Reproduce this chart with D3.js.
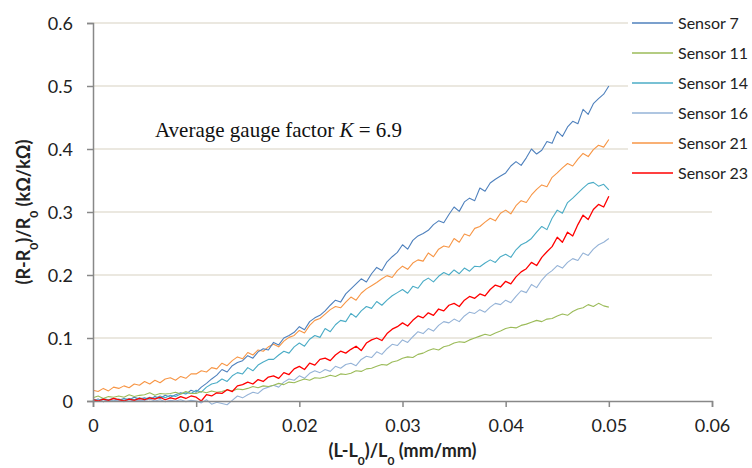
<!DOCTYPE html>
<html>
<head>
<meta charset="utf-8">
<title>Gauge factor</title>
<script src="https://d3js.org/d3.v7.min.js"></script>
<style>
body { margin: 0; background: #fff; }
.tick text { font-family: Lato, "Open Sans", sans-serif; font-size: 18px; fill: #222; }
.axistitle { font-family: Lato, "Open Sans", sans-serif; font-size: 18px; font-weight: bold; fill: #222; }
.legend text { font-family: Lato, "Open Sans", sans-serif; font-size: 16px; fill: #222; }
.series { fill: none; stroke-width: 1.1px; stroke-linejoin: round; }
</style>
</head>
<body>
<div id="chart"></div>
<script>
// strain steps of 0.0005 from 0 to 0.05
var strain = d3.range(101).map(function(i) { return i * 0.0005; });

var xTicks = [0, 0.01, 0.02, 0.03, 0.04, 0.05, 0.06];
var yTicks = [0, 0.1, 0.2, 0.3, 0.4, 0.5, 0.6];

var sensorNames = ["Sensor 7", "Sensor 11", "Sensor 14", "Sensor 16", "Sensor 21", "Sensor 23"];
var sensorColors = ["#4f81bd", "#9bbb59", "#4bacc6", "#95b3d7", "#f79646", "#ff0000"];

var sensor7 = [
  0.000, 0.003, -0.001, 0.002, 0.004, 0.001, 0.004, 0.002, 0.006, 0.003,
  0.005, 0.002, 0.007, 0.004, 0.009, 0.006, 0.010, 0.013, 0.011, 0.017,
  0.014, 0.022, 0.028, 0.035, 0.041, 0.050, 0.046, 0.056, 0.061, 0.064,
  0.072, 0.068, 0.078, 0.083, 0.081, 0.093, 0.089, 0.100, 0.104, 0.109,
  0.118, 0.113, 0.126, 0.132, 0.136, 0.143, 0.152, 0.160, 0.157, 0.170,
  0.178, 0.186, 0.194, 0.189, 0.202, 0.212, 0.207, 0.221, 0.229, 0.236,
  0.248, 0.241, 0.255, 0.262, 0.266, 0.271, 0.280, 0.286, 0.283, 0.296,
  0.308, 0.301, 0.316, 0.322, 0.318, 0.338, 0.333, 0.346, 0.352, 0.357,
  0.362, 0.373, 0.380, 0.374, 0.386, 0.400, 0.392, 0.398, 0.412, 0.409,
  0.428, 0.420, 0.435, 0.444, 0.440, 0.463, 0.455, 0.472, 0.480, 0.487,
  0.500
];
var sensor11 = [
  0.005, 0.008, 0.004, 0.007, 0.006, 0.008, 0.006, 0.010, 0.007, 0.009,
  0.010, 0.013, 0.009, 0.012, 0.011, 0.012, 0.014, 0.011, 0.015, 0.012,
  0.012, 0.015, 0.013, 0.016, 0.014, 0.015, 0.018, 0.016, 0.019, 0.018,
  0.020, 0.023, 0.021, 0.024, 0.023, 0.025, 0.028, 0.026, 0.030, 0.029,
  0.032, 0.035, 0.033, 0.037, 0.036, 0.038, 0.041, 0.039, 0.043, 0.042,
  0.044, 0.048, 0.047, 0.051, 0.052, 0.055, 0.058, 0.057, 0.062, 0.064,
  0.068, 0.070, 0.069, 0.074, 0.076, 0.080, 0.083, 0.081, 0.086, 0.088,
  0.092, 0.094, 0.093, 0.097, 0.100, 0.103, 0.106, 0.104, 0.108, 0.111,
  0.115, 0.117, 0.116, 0.120, 0.122, 0.125, 0.128, 0.126, 0.130, 0.131,
  0.135, 0.138, 0.136, 0.142, 0.146, 0.148, 0.153, 0.150, 0.155, 0.151,
  0.149
];
var sensor14 = [
  0.003, 0.001, 0.004, 0.002, 0.000, 0.003, 0.001, 0.004, 0.002, 0.005,
  0.003, 0.006, 0.004, 0.008, 0.005, 0.009, 0.007, 0.011, 0.013, 0.012,
  0.017, 0.014, 0.022, 0.027, 0.029, 0.035, 0.031, 0.040, 0.045, 0.043,
  0.053, 0.048, 0.057, 0.062, 0.066, 0.066, 0.073, 0.079, 0.076, 0.086,
  0.092, 0.087, 0.098, 0.104, 0.101, 0.115, 0.110, 0.121, 0.128, 0.126,
  0.139, 0.133, 0.143, 0.150, 0.147, 0.158, 0.152, 0.160, 0.167, 0.172,
  0.177, 0.171, 0.182, 0.179, 0.190, 0.195, 0.189, 0.198, 0.204, 0.200,
  0.208, 0.202, 0.211, 0.206, 0.214, 0.213, 0.219, 0.224, 0.220, 0.229,
  0.233, 0.228, 0.240, 0.248, 0.252, 0.258, 0.268, 0.277, 0.272, 0.290,
  0.303, 0.298, 0.315, 0.322, 0.330, 0.338, 0.345, 0.347, 0.341, 0.344,
  0.335
];
var sensor16 = [
  0.000, 0.002, -0.001, 0.001, 0.000, 0.001, -0.001, 0.002, 0.000, 0.001,
  0.001, 0.003, 0.000, 0.002, -0.001, 0.001, 0.000, 0.002, -0.001, 0.001,
  0.000, -0.003, 0.002, -0.005, -0.002, -0.004, -0.006, 0.001, 0.008, 0.005,
  0.010, 0.014, 0.012, 0.019, 0.022, 0.025, 0.022, 0.030, 0.035, 0.033,
  0.040, 0.036, 0.044, 0.048, 0.045, 0.050, 0.047, 0.055, 0.052, 0.058,
  0.060, 0.056, 0.066, 0.071, 0.069, 0.078, 0.074, 0.083, 0.090, 0.088,
  0.097, 0.093, 0.102, 0.110, 0.107, 0.115, 0.111, 0.120, 0.126, 0.124,
  0.130, 0.126, 0.135, 0.141, 0.139, 0.145, 0.141, 0.149, 0.155, 0.153,
  0.160, 0.156, 0.166, 0.175, 0.172, 0.185, 0.180, 0.192, 0.201, 0.207,
  0.215, 0.211, 0.220, 0.226, 0.223, 0.235, 0.231, 0.241, 0.248, 0.252,
  0.258
];
var sensor21 = [
  0.017, 0.015, 0.020, 0.016, 0.022, 0.020, 0.024, 0.021, 0.027, 0.025,
  0.031, 0.027, 0.033, 0.029, 0.035, 0.037, 0.033, 0.039, 0.036, 0.043,
  0.043, 0.048, 0.046, 0.053, 0.051, 0.060, 0.056, 0.064, 0.070, 0.067,
  0.077, 0.073, 0.081, 0.079, 0.086, 0.090, 0.086, 0.095, 0.101, 0.104,
  0.112, 0.108, 0.120, 0.128, 0.131, 0.138, 0.145, 0.150, 0.148, 0.157,
  0.165, 0.160, 0.171, 0.178, 0.183, 0.188, 0.194, 0.199, 0.196, 0.207,
  0.214, 0.209, 0.219, 0.224, 0.222, 0.235, 0.229, 0.241, 0.246, 0.244,
  0.258, 0.252, 0.265, 0.262, 0.274, 0.277, 0.284, 0.290, 0.286, 0.298,
  0.303, 0.297, 0.310, 0.318, 0.315, 0.327, 0.336, 0.343, 0.340, 0.355,
  0.362, 0.370, 0.377, 0.373, 0.384, 0.393, 0.388, 0.399, 0.406, 0.403,
  0.415
];
var sensor23 = [
  0.002, 0.000, 0.003, 0.001, 0.004, 0.002, 0.000, 0.003, 0.001, 0.004,
  0.002, 0.005, 0.003, 0.006, 0.002, 0.005, 0.003, 0.007, 0.004, 0.008,
  0.006, 0.000, 0.010, 0.008, 0.013, 0.012, 0.018, 0.015, 0.024, 0.026,
  0.030, 0.027, 0.034, 0.031, 0.038, 0.040, 0.036, 0.045, 0.042, 0.051,
  0.055, 0.050, 0.060, 0.057, 0.066, 0.068, 0.064, 0.073, 0.079, 0.076,
  0.082, 0.087, 0.080, 0.092, 0.097, 0.100, 0.096, 0.107, 0.114, 0.118,
  0.124, 0.119, 0.128, 0.135, 0.132, 0.140, 0.136, 0.146, 0.143, 0.152,
  0.155, 0.150, 0.160, 0.166, 0.163, 0.170, 0.167, 0.177, 0.184, 0.181,
  0.190, 0.186, 0.197, 0.205, 0.210, 0.220, 0.215, 0.228, 0.237, 0.245,
  0.260, 0.252, 0.268, 0.262, 0.280, 0.295, 0.288, 0.304, 0.312, 0.308,
  0.325
];
var sensorValues = [sensor7, sensor11, sensor14, sensor16, sensor21, sensor23];

var width = 752, height = 468;
var margin = {top: 23, right: 40, bottom: 67, left: 93};

var svg = d3.select("#chart").append("svg")
    .attr("width", width)
    .attr("height", height);

var x = d3.scaleLinear()
    .domain([0, 0.06])
    .range([margin.left, width - margin.right]);

var y = d3.scaleLinear()
    .domain([0, 0.6])
    .range([height - margin.bottom, margin.top]);

// horizontal grid
svg.append("g")
  .selectAll("line")
  .data(yTicks.slice(1))
  .join("line")
    .attr("x1", x(0))
    .attr("x2", x(0.06))
    .attr("y1", function(d) { return y(d); })
    .attr("y2", function(d) { return y(d); })
    .style("stroke", "#e4e1d6")
    .style("stroke-width", 1.5);

var line = d3.line()
    .x(function(d, i) { return x(strain[i]); })
    .y(function(d) { return y(d); });

// draw sensors, red last so it sits on top like the original
var order = [4, 0, 2, 3, 1, 5];
svg.append("g")
  .selectAll("path")
  .data(order)
  .join("path")
    .attr("class", "series")
    .attr("d", function(k) { return line(sensorValues[k]); })
    .style("stroke", function(k) { return sensorColors[k]; })
    .style("stroke-width", function(k) { return k == 5 ? 1.3 : 1.1; });

// axes
var xAxis = svg.append("g")
    .attr("transform", "translate(0," + y(0) + ")")
    .call(d3.axisBottom(x).tickValues(xTicks).tickFormat(d3.format("")).tickSize(6).tickPadding(12));

var yAxis = svg.append("g")
    .attr("transform", "translate(" + x(0) + ",0)")
    .call(d3.axisLeft(y).tickValues(yTicks).tickFormat(d3.format("")).tickSize(6).tickPadding(14));

[xAxis, yAxis].forEach(function(a) {
  a.select(".domain").style("stroke", "#888").style("stroke-width", 1.5);
  a.selectAll(".tick line").style("stroke", "#888").style("stroke-width", 1.5);
});
yAxis.selectAll(".tick text").attr("dy", "0.36em");

// axis titles with subscripts
var xt = svg.append("text")
    .attr("class", "axistitle")
    .attr("x", (x(0) + x(0.06)) / 2)
    .attr("y", 457)
    .attr("text-anchor", "middle");
xt.append("tspan").text("(L-L");
xt.append("tspan").attr("baseline-shift", "sub").attr("font-size", "12px").text("0");
xt.append("tspan").text(")/L");
xt.append("tspan").attr("baseline-shift", "sub").attr("font-size", "12px").text("0");
xt.append("tspan").text(" (mm/mm)");

var yt = svg.append("text")
    .attr("class", "axistitle")
    .attr("transform", "translate(30," + (y(0.3)) + ") rotate(-90)")
    .attr("text-anchor", "middle");
yt.append("tspan").text("(R-R");
yt.append("tspan").attr("baseline-shift", "sub").attr("font-size", "12px").text("0");
yt.append("tspan").text(")/R");
yt.append("tspan").attr("baseline-shift", "sub").attr("font-size", "12px").text("0");
yt.append("tspan").text(" (k\u03a9/k\u03a9)");

// annotation
var note = svg.append("text")
    .attr("x", 155)
    .attr("y", 137)
    .style("font-family", "'Liberation Serif', serif")
    .style("font-size", "21px")
    .style("fill", "#111");
note.append("tspan").text("Average gauge factor ");
note.append("tspan").style("font-style", "italic").text("K");
note.append("tspan").text(" = 6.9");

// legend on white box over the plot
var legend = svg.append("g").attr("class", "legend");
legend.append("rect")
    .attr("x", 628).attr("y", 4)
    .attr("width", 124).attr("height", 186)
    .style("fill", "#fff");

var item = legend.selectAll(".item")
  .data(sensorNames)
  .join("g")
    .attr("class", "item")
    .attr("transform", function(d, i) { return "translate(632," + (23 + i * 30) + ")"; });

item.append("line")
    .attr("x1", 0).attr("x2", 41)
    .style("stroke", function(d, i) { return sensorColors[i]; })
    .style("stroke-width", 1.3);

item.append("text")
    .attr("x", 46)
    .attr("dy", "0.35em")
    .text(function(d) { return d; });
</script>
</body>
</html>
